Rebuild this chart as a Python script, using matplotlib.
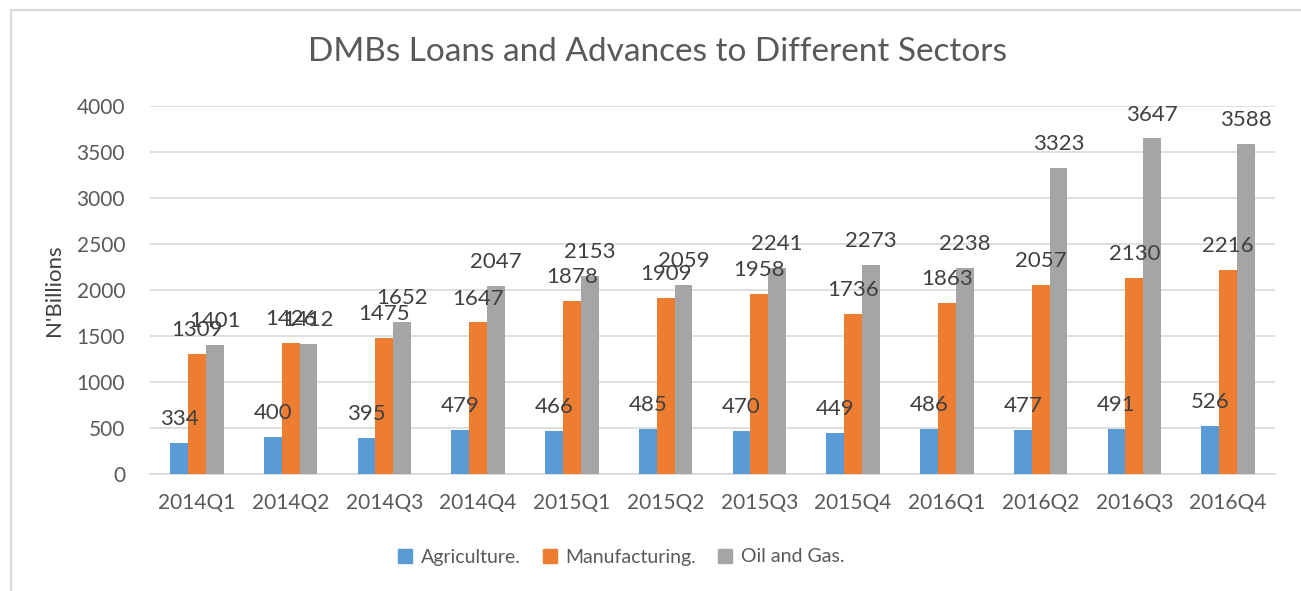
import numpy as np
import matplotlib.pyplot as plt
from matplotlib.lines import Line2D

quarters = ["2014Q1", "2014Q2", "2014Q3", "2014Q4", "2015Q1", "2015Q2",
            "2015Q3", "2015Q4", "2016Q1", "2016Q2", "2016Q3", "2016Q4"]
agriculture = [334, 400, 395, 479, 466, 485, 470, 449, 486, 477, 491, 526]
manufacturing = [1309, 1426, 1475, 1647, 1878, 1909, 1958, 1736, 1863, 2057, 2130, 2216]
oil_gas = [1401, 1412, 1652, 2047, 2153, 2059, 2241, 2273, 2238, 3323, 3647, 3588]

series = [
    ("Agriculture.", agriculture, "#5B9BD5"),
    ("Manufacturing.", manufacturing, "#ED7D31"),
    ("Oil and Gas.", oil_gas, "#A5A5A5"),
]

plt.rcParams["font.family"] = ["Lato", "DejaVu Sans"]
text_color = "#595959"

fig = plt.figure(figsize=(13.01, 5.91), dpi=100)
ax = fig.add_axes([150 / 1301, 1 - 474 / 591, 1125 / 1301, 368 / 591])

x = np.arange(len(quarters))
width = 0.19
for i, (name, vals, color) in enumerate(series):
    pos = x + (i - 1) * width
    bars = ax.bar(pos, vals, width, color=color, label=name, zorder=3)
    for b, v in zip(bars, vals):
        ax.annotate(str(v), (b.get_x() + b.get_width() / 2, v),
                    xytext=(0, 10), textcoords="offset points",
                    ha="center", va="bottom", fontsize=16, color="#404040",
                    zorder=5)

ax.set_xlim(-0.5, len(quarters) - 0.5)
ax.set_ylim(0, 4000)
ax.set_yticks(range(0, 4001, 500))
ax.set_xticks(x)
ax.set_xticklabels(quarters)
ax.tick_params(axis="both", length=0, labelsize=15, colors=text_color)
ax.tick_params(axis="y", pad=18)
ax.tick_params(axis="x", pad=14)
ax.grid(axis="y", color="#D9D9D9", linewidth=1.2, zorder=0)
for s in ["top", "right", "left"]:
    ax.spines[s].set_visible(False)
ax.spines["bottom"].set_color("#D9D9D9")
ax.spines["bottom"].set_linewidth(1.2)

ax.set_ylabel("N'Billions", fontsize=16, color="#404040", labelpad=9)
fig.text(657 / 1301, 1 - 52 / 591, "DMBs Loans and Advances to Different Sectors",
         ha="center", va="center", fontsize=24, color=text_color)

handles = [Line2D([], [], marker="s", linestyle="none", markersize=10,
                  markerfacecolor=c, markeredgecolor=c) for _, _, c in series]
fig.legend(handles, [n for n, _, _ in series], loc="center",
           bbox_to_anchor=(621 / 1301, 1 - 557 / 591), ncol=3, frameon=False,
           fontsize=14, labelcolor=text_color, handlelength=0.8,
           handletextpad=0.4, columnspacing=1.1)

# outer chart frame
fig.add_artist(Line2D([11 / 1301, 11 / 1301], [0, 1 - 10 / 591],
                      transform=fig.transFigure, color="#D9D9D9", linewidth=1.5))
fig.add_artist(Line2D([11 / 1301, 1], [1 - 10 / 591, 1 - 10 / 591],
                      transform=fig.transFigure, color="#D9D9D9", linewidth=1.5))

fig.savefig("out.png", dpi=100, facecolor="white")
